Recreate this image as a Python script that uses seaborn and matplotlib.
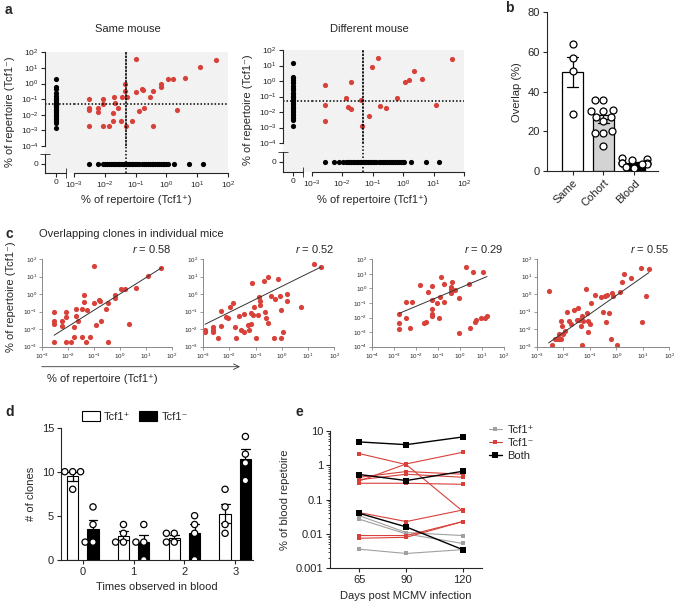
import numpy as np
import pandas as pd
import seaborn as sns
import matplotlib.pyplot as plt
from matplotlib.lines import Line2D
from matplotlib.ticker import NullLocator, FixedLocator

sns.set_style('ticks')
plt.rcParams['font.family'] = ['Liberation Sans', 'DejaVu Sans']
plt.rcParams['mathtext.fontset'] = 'custom'
plt.rcParams['mathtext.rm'] = 'Liberation Sans'
plt.rcParams['mathtext.it'] = 'Liberation Sans:italic'
plt.rcParams['axes.linewidth'] = 0.8
plt.rcParams['xtick.major.width'] = 0.8
plt.rcParams['ytick.major.width'] = 0.8

RED = '#d8413a'
POS = 'Tcf1\u207a'
NEG = 'Tcf1\u207b'

# ---- panel a / c: overlapping clones (% of repertoire) ----
# same mouse (also mouse 1 in panel c)
m1_pos = [0.003, 0.003, 0.003, 0.003, 0.006, 0.006, 0.0087, 0.0087, 0.0087, 0.014,
          0.018, 0.018, 0.02, 0.021, 0.026, 0.034, 0.036, 0.044, 0.044, 0.049,
          0.054, 0.074, 0.1, 0.103, 0.126, 0.16, 0.17, 0.19, 0.3, 0.36,
          0.37, 0.65, 0.65, 1.16, 1.6, 2.2, 4.1, 12, 40]
m1_neg = [0.1, 0.028, 0.021, 0.0019, 0.028, 0.015, 0.1, 0.05, 0.0019, 0.0019,
          0.013, 0.0038, 0.14, 0.054, 0.028, 0.0038, 0.14, 0.9, 0.35, 0.0019,
          0.13, 0.0038, 0.3, 39, 0.017, 0.45, 0.38, 0.028, 0.14, 0.0019,
          0.33, 0.93, 0.63, 1.86, 1.86, 0.02, 2.2, 11, 31]
same_zero_pos = [1.9, 0.6, 0.45, 0.25, 0.15, 0.12, 0.1, 0.085, 0.07, 0.06, 0.05, 0.045,
                 0.04, 0.035, 0.03, 0.025, 0.02, 0.017, 0.015, 0.012, 0.01, 0.008,
                 0.0065, 0.005, 0.004, 0.003, 0.0015]
same_zero_neg = [0.003, 0.006, 0.0087, 0.01, 0.012, 0.014, 0.016, 0.018, 0.02, 0.023,
                 0.026, 0.03, 0.034, 0.038, 0.043, 0.048, 0.053, 0.06, 0.067, 0.075,
                 0.085, 0.095, 0.11, 0.13, 0.16, 0.19, 0.22, 0.25, 0.29, 0.33, 0.38,
                 0.44, 0.5, 0.57, 0.65, 0.75, 0.85, 0.95, 1.1, 1.8, 5.5, 15]

# different mouse
diff_pos = [0.0028, 0.0028, 0.0028, 0.013, 0.016, 0.019, 0.019, 0.042, 0.045, 0.076,
            0.095, 0.155, 0.17, 0.28, 0.65, 1.15, 1.6, 2.2, 4.2, 12, 39]
diff_neg = [0.55, 0.028, 0.0026, 0.083, 0.022, 0.016, 0.83, 0.059, 0.0013, 0.0052,
            8.3, 32, 0.026, 0.019, 0.08, 0.81, 1.1, 4.6, 1.35, 0.028, 26]
diff_zero_pos = [14, 1.9, 1.5, 1.2, 0.9, 0.7, 0.5, 0.35, 0.25, 0.18, 0.14, 0.11, 0.09,
                 0.075, 0.06, 0.05, 0.04, 0.033, 0.027, 0.022, 0.018, 0.015, 0.012,
                 0.01, 0.008, 0.0065, 0.005, 0.004, 0.003, 0.0013]
diff_zero_neg = [0.0028, 0.0054, 0.0081, 0.011, 0.013, 0.015, 0.017, 0.02, 0.023, 0.026,
                 0.03, 0.034, 0.038, 0.043, 0.048, 0.055, 0.062, 0.07, 0.08, 0.09, 0.1,
                 0.115, 0.13, 0.16, 0.19, 0.22, 0.26, 0.3, 0.35, 0.4, 0.47, 0.55, 0.65,
                 0.75, 0.87, 1.0, 1.07, 1.8, 5.6, 15]

# panel c, mice 2-4
m2_pos = [0.0012, 0.0012, 0.0012, 0.0025, 0.0025, 0.0025, 0.0037, 0.005, 0.005, 0.0074,
          0.0087, 0.011, 0.0145, 0.017, 0.018, 0.024, 0.029, 0.036, 0.036, 0.05,
          0.055, 0.066, 0.069, 0.073, 0.081, 0.085, 0.1, 0.12, 0.135, 0.145,
          0.145, 0.21, 0.22, 0.24, 0.3, 0.29, 0.39, 0.54, 0.5, 0.7,
          0.85, 0.9, 0.95, 1.1, 1.55, 1.55, 5.3, 17, 30]
m2_neg = [0.009, 0.0065, 0.008, 0.0126, 0.009, 0.0065, 0.003, 0.11, 0.016, 0.047,
          0.042, 0.19, 0.33, 0.0126, 0.003, 0.056, 0.009, 0.074, 0.0065, 0.018,
          0.009, 0.021, 0.083, 4.5, 0.065, 0.18, 0.003, 0.065, 0.67, 0.43,
          0.24, 5.6, 0.1, 0.042, 0.023, 9.6, 0.74, 0.54, 0.003, 7.6,
          0.74, 0.13, 0.003, 0.0065, 1.05, 0.43, 0.18, 52, 33]
m3_pos = [0.0018, 0.0018, 0.0018, 0.0036, 0.0036, 0.0055, 0.007, 0.016, 0.024, 0.03,
          0.034, 0.053, 0.055, 0.053, 0.056, 0.055, 0.093, 0.11, 0.13, 0.14,
          0.19, 0.2, 0.38, 0.39, 0.4, 0.41, 0.45, 0.57, 0.93, 0.87,
          1.9, 2.6, 3.0, 4.0, 4.7, 5.4, 8.7, 11.5, 13.8, 17]
m3_neg = [0.019, 0.004, 0.0016, 0.009, 0.126, 0.002, 0.12, 1.7, 0.004, 0.0052,
          0.6, 0.037, 1.55, 0.017, 0.013, 0.16, 0.107, 0.009, 0.27, 5.7,
          0.12, 2.0, 1.2, 0.6, 0.85, 0.47, 2.6, 0.8, 0.21, 0.00083,
          28, 2.0, 0.002, 13, 0.0052, 0.007, 0.0093, 13, 0.01, 0.013]
m4_pos = [0.0028, 0.0037, 0.0048, 0.0056, 0.0069, 0.0081, 0.0071, 0.01, 0.0083, 0.0091,
          0.012, 0.0144, 0.016, 0.02, 0.026, 0.032, 0.036, 0.04, 0.046, 0.05,
          0.05, 0.058, 0.072, 0.077, 0.083, 0.083, 0.1, 0.107, 0.16, 0.26,
          0.32, 0.38, 0.45, 0.41, 0.54, 0.68, 0.74, 0.66, 1.1, 1.33,
          1.66, 2.0, 3.6, 8.3, 9.7, 13, 17]
m4_neg = [1.5, 0.0013, 0.0026, 0.0026, 0.0026, 0.0026, 0.005, 0.0056, 0.029, 0.016,
          0.008, 0.095, 0.029, 0.0195, 0.13, 0.035, 0.156, 0.035, 0.015, 0.06,
          0.0013, 0.029, 1.9, 0.085, 0.029, 0.007, 0.02, 0.3, 0.85, 0.67,
          0.094, 0.8, 0.87, 0.025, 0.085, 1.2, 0.8, 0.0027, 0.0013, 1.4,
          4.6, 14, 8.5, 32, 0.024, 0.8, 26]
c_r = ['0.58', '0.52', '0.29', '0.55']
fit_slope = [0.93, 0.74, 0.635, 1.06]
fit_intercept = [0.0, 0.44, 0.036, -0.08]

# ---- panel b ----
b_groups = ['Same', 'Cohort', 'Blood']
same_overlap = [63.8, 56.8, 50.4, 28.6]
cohort_overlap = [36, 36, 31, 30, 30, 27, 27, 25, 20, 19, 19, 12.5]
blood_overlap = [6.4, 6.0, 5.5, 4.0, 3.9, 3.8, 3.6, 3.5, 2.0, 1.5]

# ---- panel d ----
d_times = [0, 1, 2, 3]
d_pos = [[10, 10, 10, 8], [4, 3, 2, 2], [3, 3, 2, 2], [8, 6, 4, 3]]
d_neg = [[6, 4, 2, 2], [4, 2, 2, 0], [5, 4, 3, 0], [14, 12, 11, 9]]

# ---- panel e ----
e_days = [65, 90, 120]
e_pos = [[0.034, 0.011, 0.009], [0.027, 0.010, 0.0053], [0.0036, 0.0027, 0.0035]]
e_neg = [[2.2, 1.05, 0.046], [0.35, 1.1, 2.4], [0.45, 0.66, 0.55], [0.38, 0.55, 0.45],
         [0.3, 0.3, 0.28], [0.042, 0.023, 0.05], [0.009, 0.009, 0.023], [0.0075, 0.008, 0.023]]
e_both = [[4.8, 4.0, 6.7], [0.54, 0.36, 0.67], [0.04, 0.016, 0.0035]]

W, H = 674, 601
fig = plt.figure(figsize=(W / 100, H / 100), dpi=100)


def box(x0, y0, x1, y1):
    return [x0 / W, 1 - y1 / H, (x1 - x0) / W, (y1 - y0) / H]


def label(x, y, s, **kw):
    fig.text(x / W, 1 - y / H, s, **kw)


def overlap_panel(pos, neg, zcol, zrow, xs, ys):
    x0, xz1, xl0, x1 = xs
    y0, yl1, yz0, y1 = ys
    bg = fig.add_axes(box(x0, y0, x1, y1))
    bg.set_facecolor('#f2f2f2')
    bg.set_xticks([])
    bg.set_yticks([])
    sns.despine(ax=bg, left=True, bottom=True)
    a_col = fig.add_axes(box(x0, y0, xz1, yl1))
    a_main = fig.add_axes(box(xl0, y0, x1, yl1))
    a_cor = fig.add_axes(box(x0, yz0, xz1, y1))
    a_row = fig.add_axes(box(xl0, yz0, x1, y1))
    decades_x = FixedLocator(10.0 ** np.arange(-3, 3))
    decades_y = FixedLocator(10.0 ** np.arange(-4, 3))
    for ax in (a_col, a_main, a_cor, a_row):
        ax.set_facecolor('none')
        ax.tick_params(labelsize=6, length=3, pad=1.5)
    dot = dict(color='black', lw=1.1, ls=(0, (1, 1.3)))

    sns.scatterplot(x=pos, y=neg, ax=a_main, color=RED, s=14, linewidth=0, clip_on=False)
    a_main.set(xscale='log', yscale='log', xlim=(1e-3, 1e2), ylim=(1e-4, 1e2))
    a_main.axvline(0.05, **dot)
    a_main.axhline(0.05, **dot)
    a_main.tick_params(which='both', left=False, bottom=False, labelleft=False, labelbottom=False)
    sns.despine(ax=a_main, left=True, bottom=True)

    sns.scatterplot(x=np.zeros(len(zcol)), y=zcol, ax=a_col, color='black', s=14, linewidth=0)
    a_col.set(yscale='log', xlim=(-1, 1), ylim=(1e-4, 1e2))
    a_col.yaxis.set_major_locator(decades_y)
    a_col.yaxis.set_minor_locator(NullLocator())
    a_col.set_xticks([])
    a_col.axhline(0.05, xmax=(xl0 - x0) / (xz1 - x0), clip_on=False, **dot)
    sns.despine(ax=a_col, bottom=True)

    sns.scatterplot(x=zrow, y=np.zeros(len(zrow)), ax=a_row, color='black', s=14, linewidth=0, clip_on=False)
    a_row.set(xscale='log', xlim=(1e-3, 1e2), ylim=(-1, 1))
    a_row.xaxis.set_major_locator(decades_x)
    a_row.xaxis.set_minor_locator(FixedLocator([1e-3]))
    a_row.tick_params(which='minor', direction='inout', length=7)
    a_row.set_yticks([])
    a_row.axvline(0.05, ymax=(y1 - y0) / (y1 - yz0), clip_on=False, **dot)
    sns.despine(ax=a_row, left=True)

    a_cor.set(xlim=(-1, 1), ylim=(-1, 1), xticks=[0], yticks=[0])
    a_cor.xaxis.set_minor_locator(FixedLocator([1]))
    a_cor.yaxis.set_minor_locator(FixedLocator([1]))
    a_cor.tick_params(which='minor', direction='inout', length=7)
    sns.despine(ax=a_cor)
    for ax in (a_col, a_main, a_cor, a_row):
        ax.set_xlabel('')
        ax.set_ylabel('')


# ---------------- panel a ----------------
overlap_panel(m1_pos, m1_neg, same_zero_pos, same_zero_neg,
              (45, 66, 74, 228), (52.3, 146, 154, 173))
overlap_panel(diff_pos, diff_neg, diff_zero_pos, diff_zero_neg,
              (283, 303, 311.7, 464), (50, 143, 152, 172))
label(128, 29, 'Same mouse', ha='center', va='center', fontsize=8)
label(369, 29, 'Different mouse', ha='center', va='center', fontsize=8)
label(136, 200, '% of repertoire (' + POS + ')', ha='center', va='center', fontsize=8)
label(372, 200, '% of repertoire (' + POS + ')', ha='center', va='center', fontsize=8)
label(10, 112, '% of repertoire (' + NEG + ')', ha='center', va='center', rotation=90, fontsize=8)
label(248, 110, '% of repertoire (' + NEG + ')', ha='center', va='center', rotation=90, fontsize=8)

# ---------------- panel b ----------------
axb = fig.add_axes(box(546.7, 12.3, 658, 171))
df_b = pd.DataFrame({
    'group': ['Same'] * len(same_overlap) + ['Cohort'] * len(cohort_overlap) + ['Blood'] * len(blood_overlap),
    'overlap': same_overlap + cohort_overlap + blood_overlap,
})
sns.barplot(data=df_b, x='group', y='overlap', hue='group', order=b_groups, hue_order=b_groups,
            palette=['white', '#d3d3d3', 'black'], edgecolor='black', linewidth=0.9,
            errorbar='se', capsize=0.35, err_kws={'color': 'black', 'linewidth': 0.9},
            width=0.68, legend=False, ax=axb)
sns.swarmplot(data=df_b, x='group', y='overlap', order=b_groups, color='white',
              edgecolor='black', linewidth=0.9, size=5, zorder=4, ax=axb)
axb.set(ylim=(0, 80), xlim=(-0.84, 2.77), yticks=[0, 20, 40, 60, 80], xlabel='')
axb.set_ylabel('Overlap (%)', fontsize=8)
axb.tick_params(labelsize=8, length=3, pad=2)
plt.setp(axb.get_xticklabels(), rotation=45, ha='right', rotation_mode='anchor')
sns.despine(ax=axb)

# ---------------- panel c ----------------
c_sets = [(m1_pos, m1_neg), (m2_pos, m2_neg), (m3_pos, m3_neg), (m4_pos, m4_neg)]
c_boxes = [(41.7, 259, 171.7, 346.7), (203, 259, 334.3, 346.7),
           (371.7, 259.3, 504, 346.7), (536.7, 259, 669.3, 346.7)]
c_low = [-3, -3, -4, -3]
for i, ((xv, yv), bx, lo) in enumerate(zip(c_sets, c_boxes, c_low)):
    ax = fig.add_axes(box(*bx))
    sns.scatterplot(x=xv, y=yv, ax=ax, color=RED, s=14, linewidth=0, clip_on=False)
    xr = np.array([min(xv), max(xv)])
    ax.plot(xr, 10 ** (fit_intercept[i] + fit_slope[i] * np.log10(xr)), color='#333333', lw=0.7)
    ax.set(xscale='log', yscale='log', xlim=(10.0 ** lo, 1e2), ylim=(10.0 ** lo, 1e2))
    ax.xaxis.set_major_locator(FixedLocator(10.0 ** np.arange(lo, 3)))
    ax.yaxis.set_major_locator(FixedLocator(10.0 ** np.arange(lo, 3)))
    ax.xaxis.set_minor_locator(NullLocator())
    ax.yaxis.set_minor_locator(NullLocator())
    ax.tick_params(labelsize=4.5, length=2, width=0.6, pad=1.5, color='#888888')
    for s in ax.spines.values():
        s.set_color('#888888')
        s.set_linewidth(0.7)
    ax.text(1.0, 1.05, '$r$ = ' + c_r[i], transform=ax.transAxes, ha='right', va='bottom', fontsize=8)
    sns.despine(ax=ax)
    if i == 0:
        ax.annotate('', xy=(240 / W, 1 - 366.7 / H), xytext=(41.7 / W, 1 - 366.7 / H),
                    xycoords='figure fraction', textcoords='figure fraction',
                    arrowprops=dict(arrowstyle='->', lw=0.6, color='#333333', shrinkA=0, shrinkB=0),
                    annotation_clip=False)
label(39, 234, 'Overlapping clones in individual mice', ha='left', va='center', fontsize=8)
label(11, 297, '% of repertoire (' + NEG + ')', ha='center', va='center', rotation=90, fontsize=8)
label(102, 379, '% of repertoire (' + POS + ')', ha='center', va='center', fontsize=8)

# ---------------- panel d ----------------
axd = fig.add_axes(box(61, 427.7, 253, 559.7))
rows = []
for t, pv, nv in zip(d_times, d_pos, d_neg):
    rows += [(t, POS, v) for v in pv] + [(t, NEG, v) for v in nv]
df_d = pd.DataFrame(rows, columns=['times', 'subset', 'clones'])
sns.barplot(data=df_d, x='times', y='clones', hue='subset', hue_order=[POS, NEG],
            palette=['white', 'black'], edgecolor='black', linewidth=0.8, gap=0.45,
            errorbar='se', capsize=0.35, err_kws={'color': 'black', 'linewidth': 0.9}, ax=axd)
sns.swarmplot(data=df_d, x='times', y='clones', hue='subset', hue_order=[POS, NEG], dodge=True,
              palette=['white', 'white'], edgecolor='black', linewidth=0.9, size=4.5,
              zorder=4, legend=False, ax=axd)
h, l = axd.get_legend_handles_labels()
axd.legend(h[:2], l[:2], ncol=2, loc='center', bbox_to_anchor=(135 / W, 1 - 416.7 / H),
           bbox_transform=fig.transFigure, frameon=False, fontsize=8, handlelength=1.6,
           handleheight=0.9, columnspacing=0.8, handletextpad=0.4)
axd.set(ylim=(0, 15), xlim=(-0.43, 3.35), yticks=[0, 5, 10, 15])
axd.set_xlabel('Times observed in blood', fontsize=8)
axd.set_ylabel('# of clones', fontsize=8)
axd.tick_params(labelsize=8, length=3, pad=2)
sns.despine(ax=axd)

# ---------------- panel e ----------------
axe = fig.add_axes(box(330, 431, 481.7, 568.3))
rows = []
for kind, series in (('pos', e_pos), ('neg', e_neg), ('both', e_both)):
    for k, vals in enumerate(series):
        rows += [(kind, kind + str(k), d, v) for d, v in zip(e_days, vals)]
df_e = pd.DataFrame(rows, columns=['kind', 'clone', 'day', 'pct'])
e_style = {'pos': ('#a0a0a0', 0.8, 2.5), 'neg': (RED, 0.8, 2.5), 'both': ('black', 1.0, 4)}
for kind in ('pos', 'neg', 'both'):
    col, lw, ms = e_style[kind]
    sns.lineplot(data=df_e[df_e['kind'] == kind], x='day', y='pct', units='clone', estimator=None,
                 color=col, lw=lw, marker='s', markersize=ms, markeredgewidth=0, ax=axe, legend=False)
axe.set(yscale='log', ylim=(1e-3, 10), xlim=(49.4, 130.1), xticks=e_days)
axe.set_yticks([10, 1, 0.1, 0.01, 0.001])
axe.set_yticklabels(['10', '1', '0.1', '0.01', '0.001'])
axe.set_xlabel('Days post MCMV infection', fontsize=8)
axe.set_ylabel('% of blood repetoire', fontsize=8)
axe.tick_params(labelsize=8, length=3, pad=2)
axe.tick_params(which='minor', length=1.5)
handles = [Line2D([], [], color=e_style[k][0], lw=e_style[k][1], marker='s',
                  markersize=e_style[k][2], markeredgewidth=0) for k in ('pos', 'neg', 'both')]
axe.legend(handles, [POS, NEG, 'Both'], loc='upper left', bbox_to_anchor=(483 / W, 1 - 419 / H),
           bbox_transform=fig.transFigure, frameon=False, fontsize=8, handlelength=1.2,
           handletextpad=0.5, labelspacing=0.3, borderpad=0)
sns.despine(ax=axe)

# panel letters
for x, y, s in ((5, 10, 'a'), (505, 8, 'b'), (5, 234, 'c'), (5, 412, 'd'), (295, 412, 'e')):
    label(x, y, s, fontsize=10, fontweight='bold', ha='left', va='center')

fig.savefig('out.png', dpi=100)
